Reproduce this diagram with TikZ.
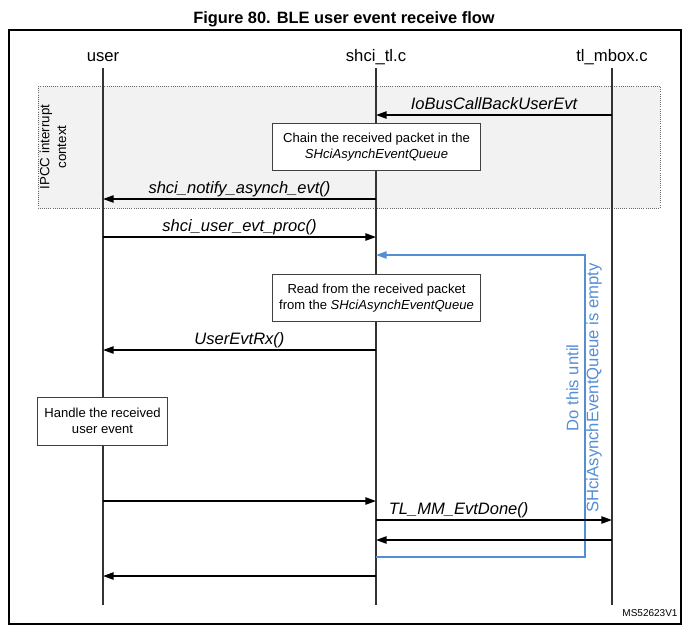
\documentclass[tikz,border=0pt]{standalone}
\usepackage{fontspec}
\setmainfont{Liberation Sans}
\usetikzlibrary{arrows.meta,positioning,calc}
\definecolor{loopblue}{RGB}{85,142,213}
\definecolor{ctxgray}{RGB}{242,242,242}

\begin{document}
\begin{tikzpicture}[x=0.75pt, y=-0.75pt,
  heading/.style={font=\bfseries\fontsize{12.3}{14}\selectfont, inner sep=0pt, anchor=base},
  lifehead/.style={font=\fontsize{12.5}{15}\selectfont, inner sep=0pt, anchor=base},
  lifeline/.style={draw=black!80, line width=0.8pt},
  notebox/.style={draw=black!75, fill=white, line width=0.6pt, align=center, font=\fontsize{9.8}{12}\selectfont, inner sep=0pt},
  msg/.style={-{Triangle[length=8pt, width=5.5pt]}, line width=1.1pt},
  msgtext/.style={font=\itshape\fontsize{12.4}{15}\selectfont, inner sep=0pt, anchor=base, yshift=4pt},
  loopline/.style={draw=loopblue, line width=1.1pt},
  looptext/.style={text=loopblue, rotate=90, align=center, font=\fontsize{12.5}{15}\selectfont}
]
\useasboundingbox (0,0) rectangle (689,633);
\node[heading] (title) at (344,23) {Figure 80. BLE user event receive flow};
\draw[line width=0.8pt] (9,30) rectangle (681,624);

% IPCC interrupt context
\filldraw[fill=ctxgray, draw=black!60, densely dotted, line width=0.6pt] (38,86) rectangle (660,208);
\node[rotate=90, align=center, font=\fontsize{10}{12.5}\selectfont] (ipcc) at (53,147) {IPCC interrupt\\context};

% lifelines
\node[lifehead] (user) at (103,61) {user};
\node[lifehead] (shci) at (376,61) {shci\_tl.c};
\node[lifehead] (mbox) at (612,61) {tl\_mbox.c};
\coordinate (lltop) at (0,68);
\coordinate (llbot) at (0,605);
\foreach \n in {user,shci,mbox}
  \draw[lifeline] (\n |- lltop) -- (\n |- llbot);

% message rows
\coordinate (r1) at (0,115);
\coordinate (r2) at (0,199);
\coordinate (r3) at (0,237);
\coordinate (r4) at (0,255);
\coordinate (r5) at (0,350);
\coordinate (r6) at (0,501);
\coordinate (r7) at (0,520);
\coordinate (r8) at (0,540);
\coordinate (r9) at (0,557);
\coordinate (r10) at (0,576);
\coordinate (loopx) at (585,0);

\draw[msg] (mbox |- r1) -- node[msgtext] {IoBusCallBackUserEvt} (shci |- r1);
\node[notebox, minimum width=156pt, minimum height=35pt] (chain) at (376.5,147) {Chain the received packet in the\\\textit{SHciAsynchEventQueue}};
\draw[msg] (shci |- r2) -- node[msgtext] {shci\_notify\_asynch\_evt()} (user |- r2);
\draw[msg] (user |- r3) -- node[msgtext] {shci\_user\_evt\_proc()} (shci |- r3);

% loop until queue is empty
\draw[loopline, -{Triangle[length=8pt, width=5.5pt]}] (shci |- r9) -- (loopx |- r9) -- (loopx |- r4) -- (shci |- r4);
\node[looptext] (until) at (584,388) {Do this until\\SHciAsynchEventQueue is empty};

\node[notebox, minimum width=156pt, minimum height=35pt] (read) at (376.5,298) {Read from the received packet\\from the \textit{SHciAsynchEventQueue}};
\draw[msg] (shci |- r5) -- node[msgtext] {UserEvtRx()} (user |- r5);
\node[notebox, minimum width=98pt, minimum height=36pt] (handle) at (102.5,421) {Handle the received\\user event};
\draw[msg] (user |- r6) -- (shci |- r6);
\draw[msg] (shci |- r7) -- node[msgtext, pos=0.35] {TL\_MM\_EvtDone()} (mbox |- r7);
\draw[msg] (mbox |- r8) -- (shci |- r8);
\draw[msg] (shci |- r10) -- (user |- r10);

\node[font=\fontsize{7.5}{9}\selectfont] (msref) at (650,613) {MS52623V1};
\end{tikzpicture}
\end{document}
